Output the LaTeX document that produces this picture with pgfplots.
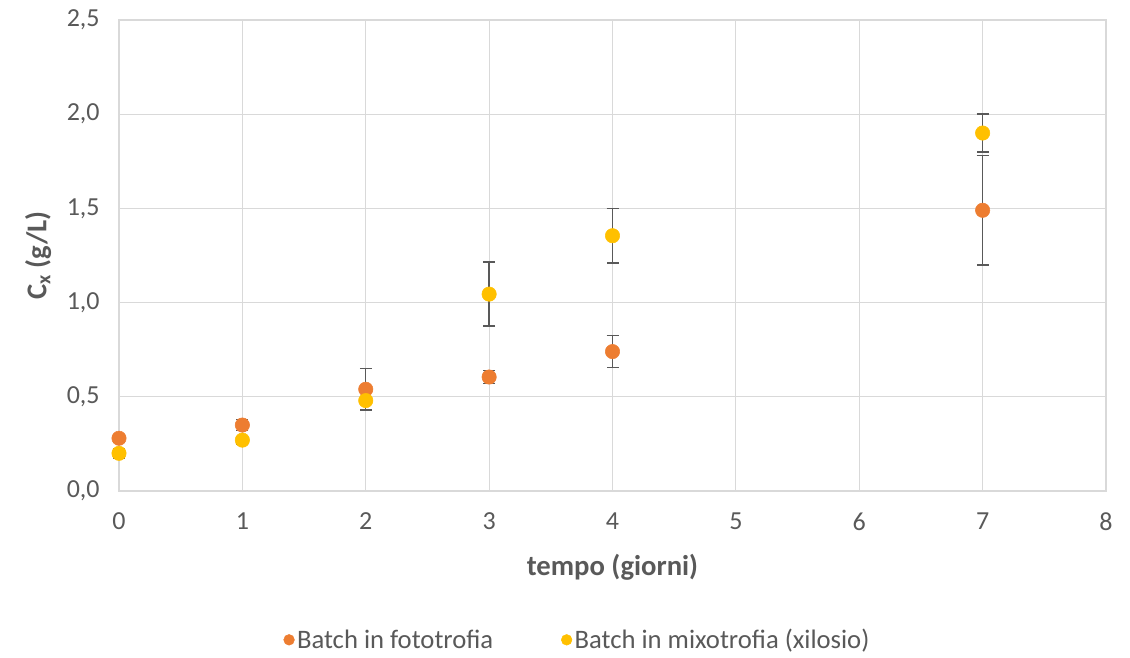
\documentclass[border=0pt]{standalone}
\usepackage{pgfplots}
\pgfplotsset{compat=1.18}
\usepackage{fontspec}
\setmainfont{Carlito}
\definecolor{cOrange}{HTML}{ED7D31}
\definecolor{cYellow}{HTML}{FFC000}
\definecolor{cGrid}{HTML}{D9D9D9}
\definecolor{cText}{HTML}{595959}
\definecolor{cErr}{HTML}{595959}
\begin{document}
\begin{tikzpicture}[x=0.75pt,y=0.75pt]
\useasboundingbox (-119,-166) rectangle (1011,491);
\begin{axis}[
  at={(0,0)}, anchor=south west,
  scale only axis, width=740.25pt, height=353.25pt,
  xmin=0, xmax=8, ymin=0, ymax=2.5,
  xtick={0,...,8}, ytick={0,0.5,...,2.5},
  grid=major, grid style={cGrid, line width=0.9pt},
  axis line style={cGrid, line width=0.9pt},
  major tick length=0pt,
  tick label style={font=\fontsize{19.5}{22}\selectfont, text=cText},
  /pgf/number format/assume math mode=true,
  yticklabel style={/pgf/number format/fixed, /pgf/number format/fixed zerofill, /pgf/number format/precision=1, /pgf/number format/use comma, xshift=-11pt},
  xticklabel style={yshift=-13pt},
  xlabel={\textbf{tempo (giorni)}},
  ylabel={\textbf{C\textsubscript{x} (g/L)}},
  label style={font=\fontsize{21.5}{24}\selectfont, text=cText},
  xlabel style={at={(axis description cs:0.5,-0.161)}, anchor=center},
  ylabel style={at={(axis description cs:-0.082,0.5)}, anchor=center},
  legend style={at={(axis description cs:0.465,-0.316)}, anchor=center, draw=none,
    font=\fontsize{20}{22}\selectfont, text=cText, legend columns=2,
    /tikz/every even column/.append style={column sep=49pt}},
  legend image code/.code={\draw[#1, mark size=4pt] plot coordinates {(0pt,0pt)};},
  legend cell align=left,
  clip=false,
]
\addplot[only marks, mark=*, mark size=5.4pt, color=cOrange,
  error bars/.cd, y dir=both, y explicit,
  error bar style={cErr, line width=1.1pt},
  error mark options={rotate=90, mark size=4.5pt, cErr, line width=1.1pt}]
  coordinates {
  (0,0.28) +- (0,0.02)
  (1,0.35) +- (0,0.03)
  (2,0.54) +- (0,0.11)
  (3,0.605) +- (0,0.034)
  (4,0.74) +- (0,0.085)
  (7,1.49) +- (0,0.29)
  };
\addlegendentry{Batch in fototrofia}
\addplot[only marks, mark=*, mark size=5.4pt, color=cYellow,
  error bars/.cd, y dir=both, y explicit,
  error bar style={cErr, line width=1.1pt},
  error mark options={rotate=90, mark size=4.5pt, cErr, line width=1.1pt}]
  coordinates {
  (0,0.20) +- (0,0.025)
  (1,0.27) +- (0,0.02)
  (2,0.48) +- (0,0.05)
  (3,1.045) +- (0,0.17)
  (4,1.355) +- (0,0.145)
  (7,1.90) +- (0,0.10)
  };
\addlegendentry{Batch in mixotrofia (xilosio)}
\end{axis}
\end{tikzpicture}
\end{document}
